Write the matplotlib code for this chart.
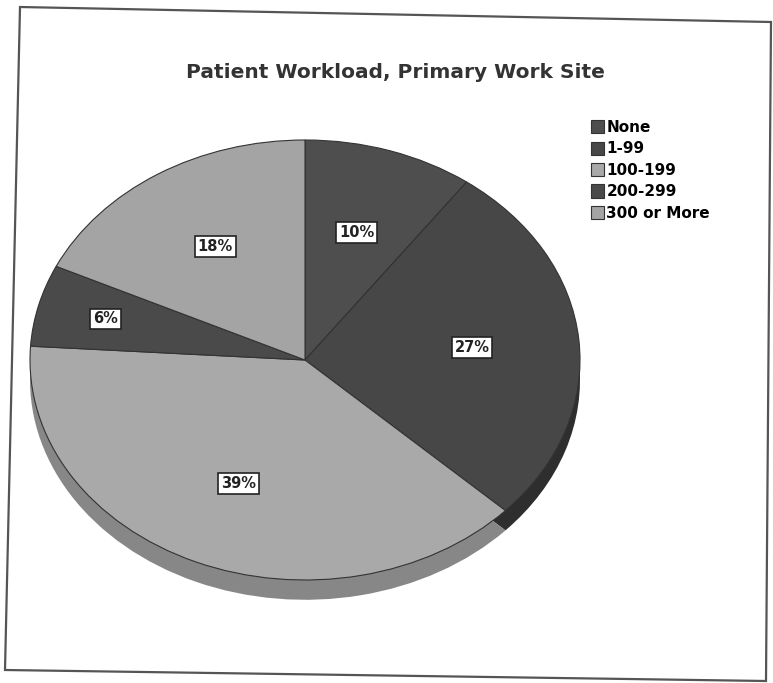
import numpy as np
import matplotlib
matplotlib.use("Agg")
import matplotlib.pyplot as plt
from matplotlib.patches import Polygon

# Data
categories = ["None", "1-99", "100-199", "200-299", "300 or More"]
shares = [10, 27, 39, 6, 18]
colors = ["#4e4e4e", "#474747", "#a9a9a9", "#4a4a4a", "#a4a4a4"]
side_colors = ["#333333", "#2e2e2e", "#878787", "#2f2f2f", "#7f7f7f"]

plt.rcParams['font.family'] = ['DejaVu Sans']

fig = plt.figure(figsize=(7.73, 6.83), dpi=100)

# scanned frame around the chart (slightly skewed)
W, H = 773, 683
frame = [(20, 7), (771, 22), (766, 681), (5, 670)]
fig.patches.append(Polygon([(x / W, 1 - y / H) for x, y in frame], closed=True,
                           fill=False, edgecolor="#555555", linewidth=1.6,
                           transform=fig.transFigure))

# pie axes: ellipse from x=30..580, y=140..580 (top face)
ax = fig.add_axes([30 / W, 1 - 580 / H, 550 / W, 440 / H])

# side of the tilted pie (drawn slightly lower, darker)
depth = 0.09
ax.pie(shares, colors=side_colors, startangle=90, counterclock=False,
       center=(0, -depth), wedgeprops=dict(linewidth=0))
wedges, _ = ax.pie(shares, colors=colors, startangle=90, counterclock=False,
                   wedgeprops=dict(edgecolor="#333333", linewidth=0.8))
ax.set_aspect('auto')
ax.set_xlim(-1, 1)
ax.set_ylim(-1, 1)
ax.axis('off')

for w, s in zip(wedges, shares):
    mid = np.deg2rad((w.theta1 + w.theta2) / 2)
    r = 0.75 if s < 8 else 0.61
    ax.text(r * np.cos(mid), r * np.sin(mid), f"{s}%", ha='center', va='center',
            fontsize=10.5, fontweight='bold', color="#222222",
            bbox=dict(boxstyle='square,pad=0.2', facecolor='white',
                      edgecolor='#222222', linewidth=1.2))

fig.text(395 / W, 1 - 72 / H, "Patient Workload, Primary Work Site",
         ha='center', va='center', fontsize=14.5, fontweight='bold', color="#333333")

fig.legend(wedges, categories, loc='upper left', bbox_to_anchor=(591 / W, 1 - 120 / H),
           frameon=False, handlelength=0.85, handleheight=0.95,
           handletextpad=0.15, labelspacing=0.42, borderaxespad=0, borderpad=0,
           prop=dict(weight='bold', size=11))

fig.savefig("out.png", dpi=100)
